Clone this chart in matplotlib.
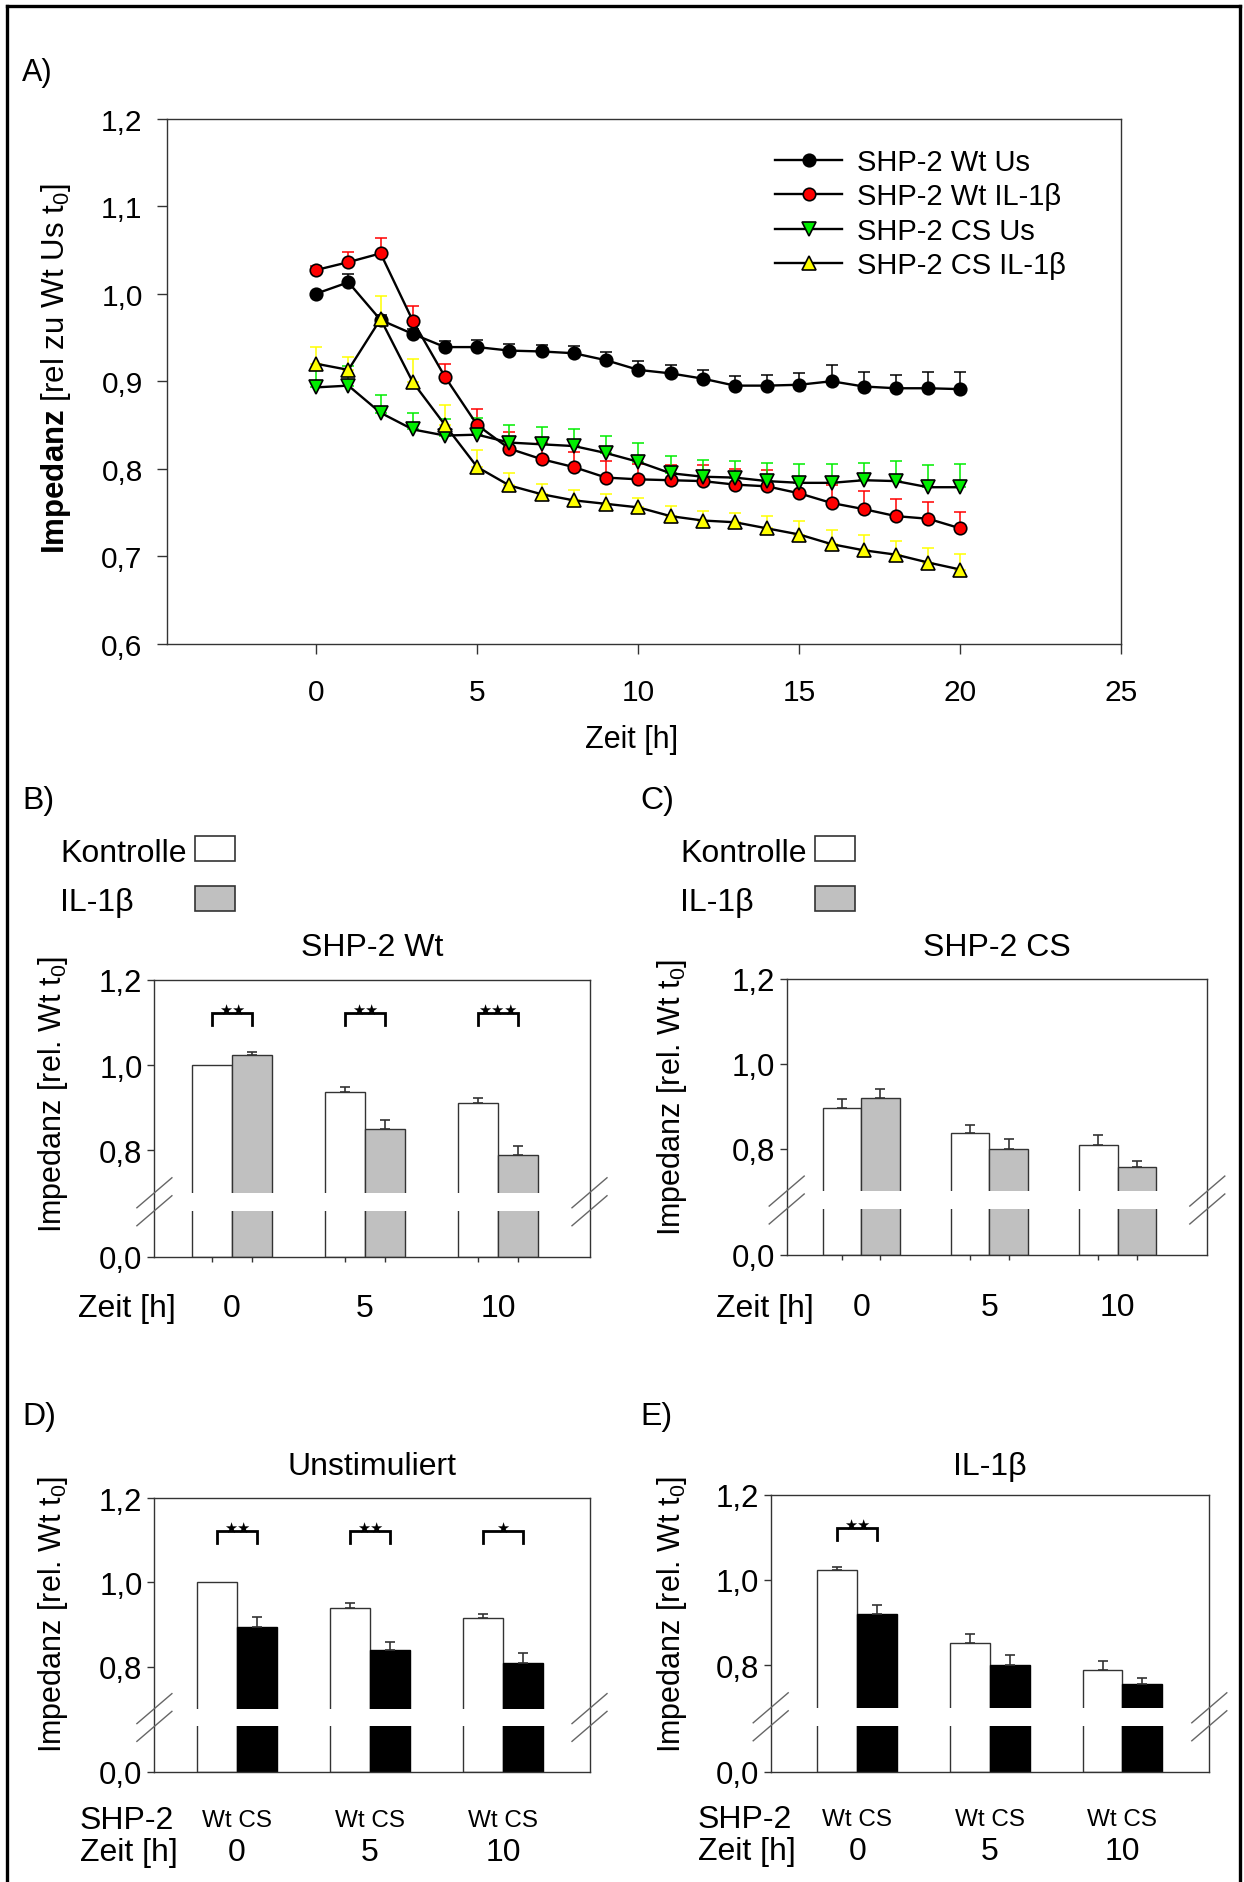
import numpy as np
import matplotlib
matplotlib.use("Agg")
import matplotlib.pyplot as plt
from matplotlib.patches import Rectangle
from matplotlib.lines import Line2D
from matplotlib.ticker import FuncFormatter

plt.rcParams["font.family"] = ["Liberation Sans", "DejaVu Sans"]
plt.rcParams["mathtext.fontset"] = "custom"
plt.rcParams["mathtext.rm"] = "Liberation Sans"
plt.rcParams["mathtext.it"] = "Liberation Sans:italic"
plt.rcParams["mathtext.bf"] = "Liberation Sans:bold"

W, H, DPI = 1244, 1883, 100
EDGE = "#333333"

# ---- panel A: impedance time course ----
hours = list(range(21))
wt_us = [1.000, 1.013, 0.970, 0.954, 0.939, 0.939, 0.935, 0.934, 0.932, 0.924, 0.913,
         0.909, 0.903, 0.895, 0.895, 0.896, 0.900, 0.894, 0.892, 0.892, 0.891]
wt_us_err = [0.0, 0.010, 0.006, 0.006, 0.007, 0.008, 0.008, 0.007, 0.008, 0.009, 0.010,
             0.009, 0.010, 0.011, 0.012, 0.013, 0.018, 0.017, 0.015, 0.019, 0.020]
wt_il = [1.027, 1.036, 1.046, 0.969, 0.905, 0.850, 0.823, 0.811, 0.802, 0.790, 0.788,
         0.787, 0.786, 0.782, 0.780, 0.772, 0.761, 0.754, 0.746, 0.743, 0.732]
wt_il_err = [0.005, 0.012, 0.017, 0.017, 0.015, 0.018, 0.019, 0.018, 0.017, 0.019, 0.018,
             0.017, 0.018, 0.018, 0.019, 0.019, 0.020, 0.021, 0.019, 0.019, 0.019]
cs_us = [0.893, 0.895, 0.864, 0.845, 0.838, 0.839, 0.830, 0.828, 0.826, 0.818, 0.808,
         0.795, 0.791, 0.790, 0.786, 0.784, 0.784, 0.787, 0.786, 0.779, 0.779]
cs_us_err = [0.021, 0.022, 0.020, 0.019, 0.019, 0.019, 0.020, 0.020, 0.020, 0.020, 0.021,
             0.020, 0.019, 0.019, 0.021, 0.022, 0.021, 0.020, 0.023, 0.025, 0.026]
cs_il = [0.920, 0.913, 0.971, 0.899, 0.850, 0.802, 0.781, 0.771, 0.764, 0.760, 0.756,
         0.746, 0.741, 0.739, 0.732, 0.725, 0.714, 0.707, 0.702, 0.693, 0.685]
cs_il_err = [0.019, 0.015, 0.026, 0.026, 0.023, 0.019, 0.014, 0.012, 0.012, 0.011, 0.011,
             0.011, 0.011, 0.011, 0.014, 0.016, 0.016, 0.017, 0.016, 0.017, 0.018]
series_labels = ["SHP-2 Wt Us", "SHP-2 Wt IL-1β", "SHP-2 CS Us", "SHP-2 CS IL-1β"]

# ---- panels B-E: bars at 0, 5, 10 h ----
bar_times = ["0", "5", "10"]
b_ctrl, b_ctrl_err = [1.000, 0.937, 0.912], [0.0, 0.012, 0.010]
b_il, b_il_err = [1.024, 0.849, 0.789], [0.006, 0.021, 0.021]
c_ctrl, c_ctrl_err = [0.896, 0.838, 0.809], [0.022, 0.018, 0.024]
c_il, c_il_err = [0.920, 0.800, 0.757], [0.021, 0.023, 0.013]
d_wt, d_wt_err = [1.000, 0.940, 0.915], [0.0, 0.012, 0.010]
d_cs, d_cs_err = [0.894, 0.840, 0.808], [0.023, 0.018, 0.025]
e_wt, e_wt_err = [1.024, 0.852, 0.788], [0.006, 0.022, 0.022]
e_cs, e_cs_err = [0.921, 0.800, 0.755], [0.021, 0.025, 0.014]
b_sig = ["**", "**", "***"]
d_sig = ["**", "**", "*"]
e_sig = ["**", "", ""]

FS = 23  # text size in the bar panels

fig = plt.figure(figsize=(W / DPI, H / DPI), dpi=DPI)


def axes_px(left, top, right, bottom):
    return fig.add_axes([left / W, 1 - bottom / H, (right - left) / W, (bottom - top) / H])


def text_px(x, y, s, size=FS, ha="left", **kw):
    # y = middle of the capitals in pixels
    base = y + 0.36 * size * DPI / 72
    fig.text(x / W, 1 - base / H, s, fontsize=size, ha=ha, va="baseline", **kw)


def ylabel_px(x, y, s, size=22):
    fig.text(x / W, 1 - y / H, s, fontsize=size, rotation=90, ha="center", va="center")


def comma(v, pos):
    return f"{v:.1f}".replace(".", ",")


def style_spines(ax):
    for sp in ax.spines.values():
        sp.set_color(EDGE)
        sp.set_linewidth(1.0)


# frame round the whole figure
for xs, ys in [([7, 7], [H, 7]), ([7, 1240], [7, 7]), ([1240, 1240], [7, H])]:
    fig.add_artist(Line2D([x / W for x in xs], [1 - y / H for y in ys],
                          transform=fig.transFigure, color="black", lw=2.4))

# ---------------- A ----------------
axA = axes_px(167, 119.5, 1121.5, 645)
colors = ["#000000", "#ff0000", "#00ee00", "#ffff00"]
markers = ["o", "o", "v", "^"]
sizes = [9, 9, 9.5, 9.5]
for vals, err, col in zip([wt_us, wt_il, cs_us, cs_il],
                          [wt_us_err, wt_il_err, cs_us_err, cs_il_err], colors):
    axA.errorbar(hours, vals, yerr=[np.zeros(len(err)), err], fmt="none", ecolor=col,
                 elinewidth=1.1, capsize=4.3, capthick=1.1, zorder=2)
for vals, col, mk, ms, lab in zip([wt_us, wt_il, cs_us, cs_il], colors, markers, sizes,
                                  series_labels):
    axA.plot(hours, vals, color="black", lw=1.7, marker=mk, ms=ms, mfc=col, mec="black",
             mew=1.2, label=lab, zorder=3)
axA.set_xlim(-4.63, 25)
axA.set_ylim(0.6, 1.2)
axA.set_xticks([0, 5, 10, 15, 20, 25])
axA.set_yticks(np.arange(0.6, 1.21, 0.1))
axA.yaxis.set_major_formatter(FuncFormatter(comma))
axA.tick_params(axis="both", direction="out", length=7.5, width=1, color=EDGE, labelsize=21.5)
axA.tick_params(axis="y", pad=10)
axA.tick_params(axis="x", pad=17)
style_spines(axA)
axA.legend(loc="upper left", bbox_to_anchor=(775 / W, 1 - 149 / H), bbox_transform=fig.transFigure,
           frameon=False, fontsize=21, handlelength=2.3, handletextpad=0.5, labelspacing=0.22,
           borderpad=0, borderaxespad=0, numpoints=1)
text_px(22, 70, "A)", size=22)
ylabel_px(56, 369, r"$\mathbf{Impedanz}$ [rel zu Wt Us $\mathrm{t}_0$]", size=22.5)
text_px(632, 737, "Zeit [h]", size=22, ha="center")

# ---------------- bar panels ----------------
BRK = 0.70
LOW = 0.15
BAND_LO = 0.503


def fwd(v):
    v = np.asarray(v, dtype=float)
    return np.where(v < BRK, v * LOW / BRK, LOW + (v - BRK))


def inv(d):
    d = np.asarray(d, dtype=float)
    return np.where(d < LOW, d * BRK / LOW, d - LOW + BRK)


def bar_panel(rect, xlim, left, left_err, right, right_err, right_color, sig=None, bar_ticks=True):
    ax = axes_px(*rect)
    wpx, hpx = rect[2] - rect[0], rect[3] - rect[1]
    x = np.arange(len(left))
    w = 0.3
    ax.set_yscale("function", functions=(fwd, inv))
    ax.bar(x - w / 2, left, w, color="white", edgecolor=EDGE, lw=1, zorder=1)
    ax.bar(x + w / 2, right, w, color=right_color, edgecolor=EDGE if right_color != "black" else "black",
           lw=1, zorder=1)
    for xs, vals, err in [(x - w / 2, left, left_err), (x + w / 2, right, right_err)]:
        err = np.asarray(err)
        m = err > 0
        ax.errorbar(xs[m], np.asarray(vals)[m], yerr=[np.zeros(m.sum()), err[m]], fmt="none",
                    ecolor=EDGE, elinewidth=1.2, capsize=3.5, capthick=1.2, zorder=1.5)
    ax.axhspan(BAND_LO, BRK, facecolor="white", edgecolor="none", zorder=2)
    if sig:
        for g, s in zip(x, sig):
            if not s:
                continue
            ax.plot([g - w / 2, g - w / 2, g + w / 2, g + w / 2], [1.094, 1.123, 1.123, 1.094],
                    color="black", lw=2, solid_joinstyle="miter", zorder=3)
            ax.text(g, 1.121, "★" * len(s), ha="center", va="baseline", fontsize=10.5,
                    family="DejaVu Sans", zorder=3)
    ax.set_xlim(*xlim)
    ax.set_ylim(0, 1.2)
    ax.set_yticks([0, 0.8, 1.0, 1.2])
    ax.yaxis.set_major_formatter(FuncFormatter(comma))
    if bar_ticks:
        ax.set_xticks(np.sort(np.concatenate([x - w / 2, x + w / 2])))
        ax.set_xticklabels([])
    else:
        ax.set_xticks([])
    ax.tick_params(axis="y", direction="out", length=5, width=1, color=EDGE, labelsize=22.5, pad=3.5)
    ax.tick_params(axis="x", direction="out", length=3.6, width=1, color=EDGE)
    style_spines(ax)
    # axis break marks
    top = LOW / (LOW + 1.2 - BRK)
    bot = float(fwd(BAND_LO)) / (LOW + 1.2 - BRK)
    dx, dy = 17.5 / wpx, 15 / hpx
    for xa in (0, 1):
        for yc in (bot, top):
            ax.plot([xa - dx, xa + dx], [yc - dy, yc + dy], transform=ax.transAxes,
                    color="#666666", lw=1, clip_on=False, zorder=4)

    def gx(g):
        return rect[0] + (g - xlim[0]) / (xlim[1] - xlim[0]) * wpx
    return ax, gx


def legend_boxes(xt, xb):
    text_px(xt, 850, "Kontrolle")
    text_px(xt, 899.5, "IL-1β")
    for y0, fc in [(837, "white"), (886.5, "#c0c0c0")]:
        fig.add_artist(Rectangle((xb / W, 1 - (y0 + 25) / H), 40.5 / W, 25 / H,
                                 transform=fig.transFigure, facecolor=fc, edgecolor=EDGE, lw=1.2))


# B
text_px(22, 797, "B)")
legend_boxes(60, 195)
axB, gxB = bar_panel((154.4, 981, 589.5, 1257.6), (-0.583, 2.688), b_ctrl, b_ctrl_err,
                     b_il, b_il_err, "#c0c0c0", sig=b_sig)
text_px(372, 945, "SHP-2 Wt", ha="center")
ylabel_px(53, 1094, r"Impedanz [rel. Wt $\mathrm{t}_0$]")
text_px(78, 1306, "Zeit [h]")
for g, t in enumerate(bar_times):
    text_px(gxB(g), 1306, t, ha="center")

# C
text_px(640, 797, "C)")
legend_boxes(680, 814.6)
axC, gxC = bar_panel((786.7, 980, 1207.3, 1255.7), (-0.581, 2.700), c_ctrl, c_ctrl_err,
                     c_il, c_il_err, "#c0c0c0")
text_px(997, 945, "SHP-2 CS", ha="center")
ylabel_px(672, 1097, r"Impedanz [rel. Wt $\mathrm{t}_0$]")
text_px(715.7, 1305, "Zeit [h]")
for g, t in enumerate(bar_times):
    text_px(gxC(g), 1305, t, ha="center")

# D
text_px(22, 1413, "D)")
axD, gxD = bar_panel((154.4, 1499.3, 589.5, 1772.7), (-0.621, 2.650), d_wt, d_wt_err,
                     d_cs, d_cs_err, "black", sig=d_sig, bar_ticks=False)
text_px(372, 1464, "Unstimuliert", ha="center")
ylabel_px(53, 1614, r"Impedanz [rel. Wt $\mathrm{t}_0$]")
text_px(80, 1818, "SHP-2")
text_px(80, 1850, "Zeit [h]")
for g, t in enumerate(bar_times):
    text_px(gxD(g), 1818, "Wt CS", size=17.5, ha="center")
    text_px(gxD(g), 1850, t, ha="center")

# E
text_px(640, 1413, "E)")
axE, gxE = bar_panel((770.7, 1495.8, 1209.3, 1772.7), (-0.652, 2.655), e_wt, e_wt_err,
                     e_cs, e_cs_err, "black", sig=e_sig, bar_ticks=False)
text_px(990, 1464, "IL-1β", ha="center")
ylabel_px(672, 1614, r"Impedanz [rel. Wt $\mathrm{t}_0$]")
text_px(697.7, 1817, "SHP-2")
text_px(697.7, 1849, "Zeit [h]")
for g, t in enumerate(bar_times):
    text_px(gxE(g), 1817, "Wt CS", size=17.5, ha="center")
    text_px(gxE(g), 1849, t, ha="center")

fig.savefig("out.png", dpi=DPI)
plt.close(fig)
